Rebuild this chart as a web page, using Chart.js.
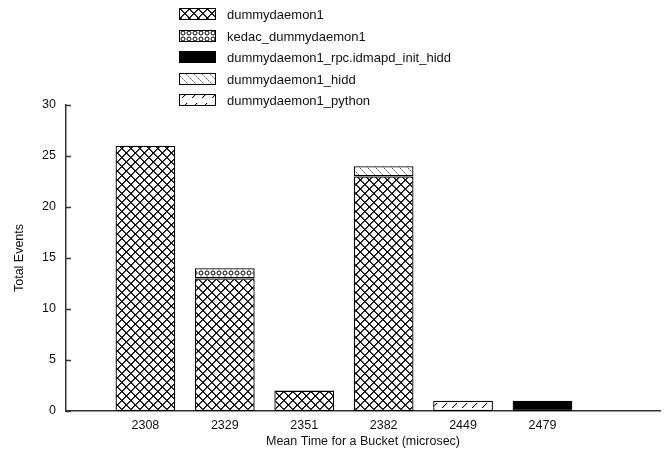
<!DOCTYPE html>
<html>
<head>
<meta charset="utf-8">
<script src="https://cdn.jsdelivr.net/npm/chart.js@4"></script>
<style>
  html, body { margin: 0; padding: 0; background: #fff; }
  #wrap { width: 665px; height: 455px; }
</style>
</head>
<body>
<div id="wrap"><canvas id="chart" width="665" height="455"></canvas></div>
<script>
// bucket labels and where they sit on the x axis
const buckets = ['2308', '2329', '2351', '2382', '2449', '2479'];
const bucketPos = [1, 2, 3, 4, 5, 6];

// events per bucket, one array per process
const dummydaemon1 = [26, 13, 2, 23, 0, 0];
const kedacDummydaemon1 = [0, 1, 0, 0, 0, 0];
const rpcIdmapdInitHidd = [0, 0, 0, 0, 0, 1];
const dummydaemon1Hidd = [0, 0, 0, 1, 0, 0];
const dummydaemon1Python = [0, 0, 0, 0, 1, 0];

const FONT = '"Liberation Sans", Arial, Helvetica, sans-serif';

// build a small tiled fill
function makePattern(size, draw) {
  const c = document.createElement('canvas');
  c.width = size;
  c.height = size;
  const g = c.getContext('2d');
  g.fillStyle = '#fff';
  g.fillRect(0, 0, size, size);
  draw(g, size);
  return g.createPattern(c, 'repeat');
}

const crossFill = makePattern(9, (g, s) => {
  g.fillStyle = '#000';
  for (let i = 0; i < s; i++) {
    g.fillRect(i, i, 1.7, 1);
    g.fillRect(s - 1 - i, i, 1.7, 1);
  }
});

const ringFill = makePattern(6, (g, s) => {
  g.strokeStyle = '#000';
  g.lineWidth = 1;
  g.beginPath();
  g.arc(3, 3, 2, 0, Math.PI * 2);
  g.stroke();
});

const dotDiagFill = makePattern(8, (g, s) => {
  for (let i = 0; i < s; i++) {
    g.fillStyle = i % 2 ? '#aaa' : '#666';
    g.fillRect(i, i, 1, 1);
  }
});

const slashFill = makePattern(10, (g, s) => {
  g.fillStyle = '#000';
  for (let i = 2; i < 7; i++) g.fillRect(i, s - 1 - i, 1.2, 1);
});

function toPoints(values) {
  return values.map((v, i) => ({ x: bucketPos[i], y: v === 0 ? null : v }));
}

// legend drawn as a vertical list above the plot
const stackLegend = {
  id: 'stackLegend',
  afterDraw(chart) {
    const ctx = chart.ctx;
    ctx.save();
    ctx.font = '13px ' + FONT;
    ctx.textBaseline = 'middle';
    chart.data.datasets.forEach((ds, i) => {
      const y = Math.round(14 + i * 21.6);
      ctx.fillStyle = ds.backgroundColor;
      ctx.fillRect(179, y - 6, 37, 12);
      ctx.strokeStyle = '#000';
      ctx.lineWidth = 1;
      ctx.strokeRect(179.5, y - 5.5, 36, 11);
      ctx.fillStyle = '#111';
      ctx.fillText(ds.label, 227, y + 1);
    });
    ctx.restore();
  }
};

// short tick marks pointing into the plot
const innerTicks = {
  id: 'innerTicks',
  afterDraw(chart) {
    const ys = chart.scales.y;
    const ctx = chart.ctx;
    ctx.save();
    ctx.strokeStyle = '#333';
    ctx.lineWidth = 1.5;
    ys.ticks.forEach(t => {
      const py = Math.round(ys.getPixelForValue(t.value)) + 0.5;
      ctx.beginPath();
      ctx.moveTo(chart.chartArea.left, py);
      ctx.lineTo(chart.chartArea.left + 5, py);
      ctx.stroke();
    });
    ctx.restore();
  }
};

const common = { borderColor: '#000', borderWidth: 1.3, borderSkipped: false, barPercentage: 0.94, categoryPercentage: 0.8 };

new Chart(document.getElementById('chart'), {
  type: 'bar',
  data: {
    datasets: [
      { label: 'dummydaemon1', data: toPoints(dummydaemon1), backgroundColor: crossFill, ...common },
      { label: 'kedac_dummydaemon1', data: toPoints(kedacDummydaemon1), backgroundColor: ringFill, ...common },
      { label: 'dummydaemon1_rpc.idmapd_init_hidd', data: toPoints(rpcIdmapdInitHidd), backgroundColor: '#000', ...common },
      { label: 'dummydaemon1_hidd', data: toPoints(dummydaemon1Hidd), backgroundColor: dotDiagFill, ...common },
      { label: 'dummydaemon1_python', data: toPoints(dummydaemon1Python), backgroundColor: slashFill, ...common }
    ]
  },
  options: {
    responsive: false,
    animation: false,
    layout: { padding: { top: 105, right: 5, left: 0, bottom: 0 } },
    plugins: { legend: { display: false }, tooltip: { enabled: false } },
    scales: {
      x: {
        type: 'linear',
        min: 0,
        max: 7.48,
        offset: false,
        stacked: true,
        afterBuildTicks: s => { s.ticks = bucketPos.map(v => ({ value: v })); },
        afterFit: s => { s.height = 44; },
        ticks: {
          autoSkip: false,
          maxRotation: 0,
          padding: 7,
          color: '#111',
          font: { family: FONT, size: 12.5 },
          callback: v => buckets[bucketPos.indexOf(v)] || ''
        },
        grid: { display: false, drawTicks: false, offset: false },
        border: { display: true, color: '#333', width: 1.5 },
        title: {
          display: true,
          text: 'Mean Time for a Bucket (microsec)',
          color: '#111',
          font: { family: FONT, size: 12.5 },
          padding: { top: 0, bottom: 6 }
        }
      },
      y: {
        min: 0,
        max: 30,
        stacked: true,
        afterFit: s => { s.width = 66; },
        ticks: {
          stepSize: 5,
          padding: 10,
          color: '#111',
          font: { family: FONT, size: 12.5 }
        },
        grid: { display: false, drawTicks: false },
        border: { display: true, color: '#333', width: 1.5 },
        title: {
          display: true,
          text: 'Total Events',
          color: '#111',
          font: { family: FONT, size: 12.5 },
          padding: { top: 12, bottom: 0 }
        }
      }
    }
  },
  plugins: [stackLegend, innerTicks]
});
</script>
</body>
</html>
